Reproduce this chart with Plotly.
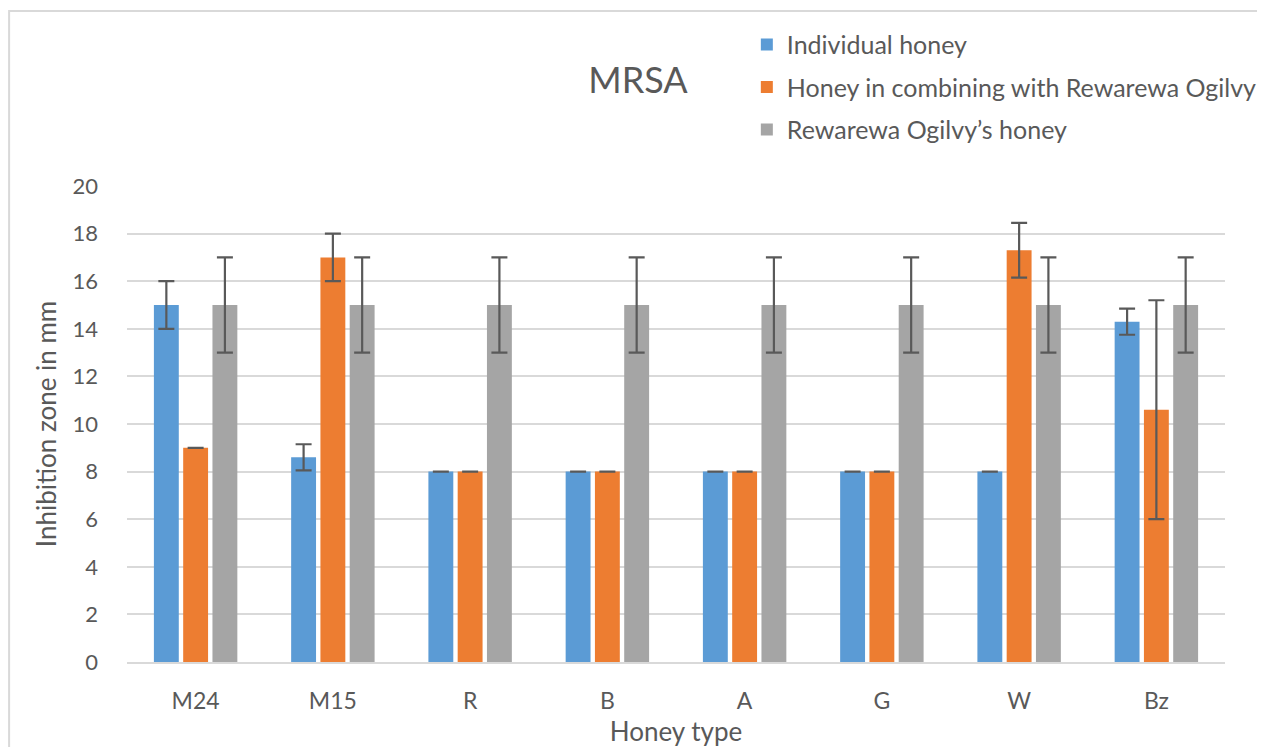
import plotly.graph_objects as go

# data
honey_types = ["M24", "M15", "R", "B", "A", "G", "W", "Bz"]

individual = [15, 8.6, 8, 8, 8, 8, 8, 14.3]
individual_err = [1, 0.55, 0, 0, 0, 0, 0, 0.55]

combined = [9, 17, 8, 8, 8, 8, 17.3, 10.6]
combined_err = [0, 1, 0, 0, 0, 0, 1.15, 4.6]

rewarewa = [15, 15, 15, 15, 15, 15, 15, 15]
rewarewa_err = [2, 2, 2, 2, 2, 2, 2, 2]

series_names = [
    "Individual honey",
    "Honey in combining with Rewarewa Ogilvy",
    "Rewarewa Ogilvy\u2019s honey",
]
colors = ["#5B9BD5", "#ED7D31", "#A5A5A5"]

FONT = "Lato"
TEXT = "#595959"

fig = go.Figure()

for name, vals, errs, col in zip(
    series_names,
    [individual, combined, rewarewa],
    [individual_err, combined_err, rewarewa_err],
    colors,
):
    fig.add_trace(go.Bar(
        x=honey_types,
        y=vals,
        name=name,
        legendgroup=name,
        marker=dict(color=col, line=dict(width=0)),
        error_y=dict(type="data", array=errs, visible=True,
                     color="#595959", thickness=2.2, width=8),
    ))

# the page body adds an 8px offset, margins below account for it
fig.update_layout(
    width=1265,
    height=747,
    margin=dict(l=119, r=47, t=178, b=93),
    paper_bgcolor="white",
    plot_bgcolor="white",
    font=dict(family=FONT, color=TEXT),
    barmode="group",
    bargap=0.36,
    bargroupgap=0.15,
    title=dict(text="MRSA", x=630 / 1265, xanchor="center",
               y=1 - 72 / 747, yanchor="middle",
               font=dict(size=36, color=TEXT, family=FONT)),
    legend=dict(
        x=0.564, y=1.345, xanchor="left", yanchor="top",
        font=dict(size=25, color=TEXT, family=FONT),
        tracegroupgap=7,
        bgcolor="rgba(0,0,0,0)",
    ),
    showlegend=True,
)

fig.update_xaxes(
    showgrid=False,
    showline=True, linecolor="#D9D9D9", linewidth=2,
    ticks="", ticklabelstandoff=17,
    tickfont=dict(size=23, color=TEXT),
    title=dict(text="Honey type", font=dict(size=26, color=TEXT), standoff=10),
)
fig.update_yaxes(
    range=[0, 20], dtick=2,
    showgrid=True, gridcolor="#D9D9D9", gridwidth=2,
    zeroline=False, showline=False,
    ticks="", ticklabelstandoff=28,
    tickfont=dict(size=22, color=TEXT),
    title=dict(text="Inhibition zone in mm", font=dict(size=26, color=TEXT), standoff=8),
)

# light frame around the chart area
fig.add_shape(type="rect", xref="paper", yref="paper",
              x0=(9 - 127) / 1099, x1=1.2, y0=-0.5, y1=(662 - 11) / 476,
              line=dict(color="#D9D9D9", width=2), layer="below")

fig.write_html("out.html")
